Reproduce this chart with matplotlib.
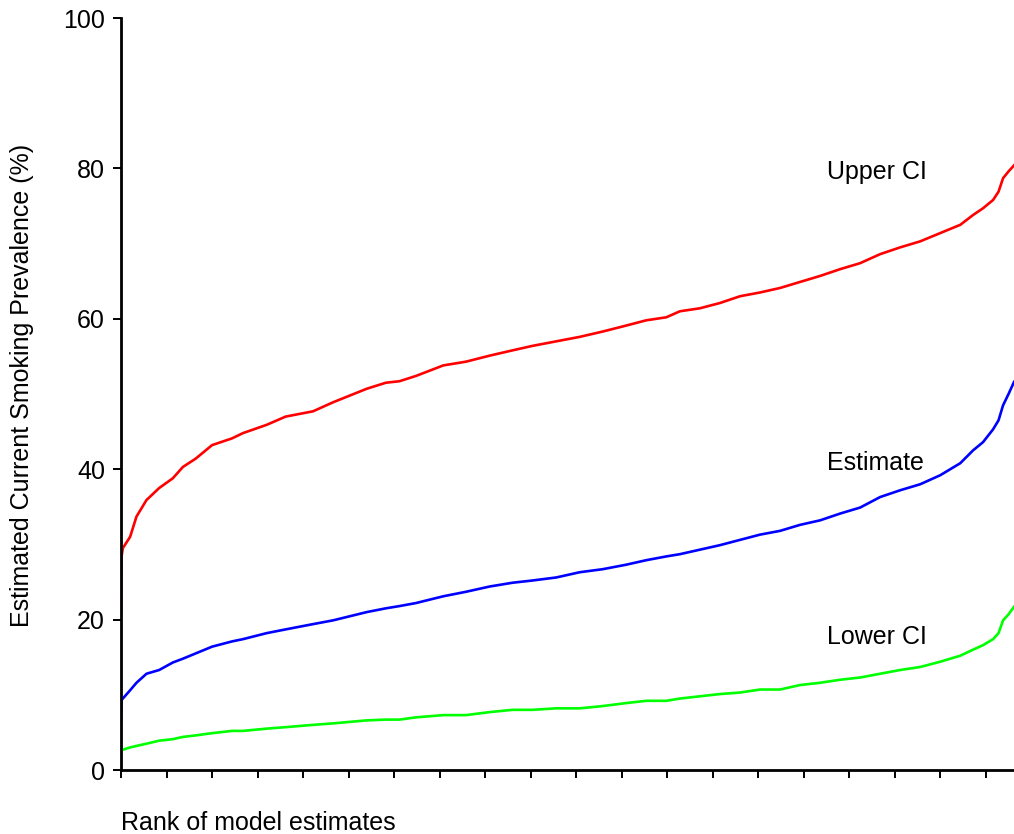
import matplotlib
matplotlib.use("Agg")
import matplotlib.pyplot as plt

plt.rcParams['font.family'] = ['Liberation Sans', 'DejaVu Sans']

rank = [0, 0.5, 2, 10, 17, 28, 42, 57, 68, 82, 100, 122, 134, 160, 181, 211, 233,
        270, 291, 306, 324, 354, 379, 405, 430, 452, 478, 504, 529, 555, 577, 599,
        614, 636, 658, 680, 702, 724, 746, 768, 790, 812, 834, 856, 878, 900, 922,
        936, 947, 958, 964, 969, 975, 981]

upper_ci = [21.0, 28.3, 29.5, 31.0, 33.7, 35.9, 37.5, 38.8, 40.3, 41.4, 43.2, 44.1, 44.8,
            45.9, 47.0, 47.7, 48.9, 50.7, 51.5, 51.7, 52.4, 53.8, 54.3, 55.1, 55.8, 56.4,
            57.0, 57.6, 58.3, 59.1, 59.8, 60.2, 61.0, 61.4, 62.1, 63.0, 63.5, 64.1, 64.9,
            65.7, 66.6, 67.4, 68.6, 69.5, 70.3, 71.4, 72.5, 73.8, 74.7, 75.8, 76.9, 78.7,
            79.6, 80.4]

estimate = [6.6, 9.3, 9.5, 10.6, 11.6, 12.8, 13.3, 14.3, 14.8, 15.5, 16.4, 17.1, 17.4,
            18.2, 18.7, 19.4, 19.9, 21.0, 21.5, 21.8, 22.2, 23.1, 23.7, 24.4, 24.9, 25.2,
            25.6, 26.3, 26.7, 27.3, 27.9, 28.4, 28.7, 29.3, 29.9, 30.6, 31.3, 31.8, 32.6,
            33.2, 34.1, 34.9, 36.3, 37.2, 38.0, 39.2, 40.8, 42.5, 43.6, 45.3, 46.5, 48.5,
            50.0, 51.6]

lower_ci = [2.6, 2.6, 2.7, 3.0, 3.2, 3.5, 3.9, 4.1, 4.4, 4.6, 4.9, 5.2, 5.2, 5.5, 5.7,
            6.0, 6.2, 6.6, 6.7, 6.7, 7.0, 7.3, 7.3, 7.7, 8.0, 8.0, 8.2, 8.2, 8.5, 8.9,
            9.2, 9.2, 9.5, 9.8, 10.1, 10.3, 10.7, 10.7, 11.3, 11.6, 12.0, 12.3, 12.8,
            13.3, 13.7, 14.4, 15.2, 16.0, 16.6, 17.4, 18.2, 19.9, 20.7, 21.7]

labels = ["Upper CI", "Estimate", "Lower CI"]
label_y = [79.5, 40.8, 17.7]
y_ticks = [0, 20, 40, 60, 80, 100]
x_ticks = list(range(0, 951, 50))

fig = plt.figure(figsize=(10.14, 8.34), dpi=100)
ax = fig.add_axes([121 / 1014, 64 / 834, 1 - 121 / 1014, 752 / 834])

ax.plot(rank, upper_ci, color='#ff0000', lw=1.9)
ax.plot(rank, estimate, color='#0000ff', lw=1.9)
ax.plot(rank, lower_ci, color='#00ff00', lw=1.9)

for t, yv in zip(labels, label_y):
    ax.text(776, yv, t, fontsize=18, va='center', ha='left', color='black')

ax.set_xlim(0, 981)
ax.set_ylim(0, 100)
ax.set_yticks(y_ticks)
ax.set_yticklabels([str(v) for v in y_ticks])
ax.set_xticks(x_ticks)
ax.set_xticklabels([])
ax.tick_params(axis='both', direction='out', length=6, width=1.4, labelsize=18, pad=5.5)
for s in ['top', 'right']:
    ax.spines[s].set_visible(False)
for s in ['left', 'bottom']:
    ax.spines[s].set_linewidth(2)

fig.text(121 / 1014, 1 - 823 / 834, "Rank of model estimates", fontsize=18,
         ha='left', va='center')
fig.text(22 / 1014, 1 - 385 / 834, "Estimated Current Smoking Prevalence (%)",
         fontsize=18, rotation=90, ha='center', va='center')

fig.savefig("out.png", dpi=100)
